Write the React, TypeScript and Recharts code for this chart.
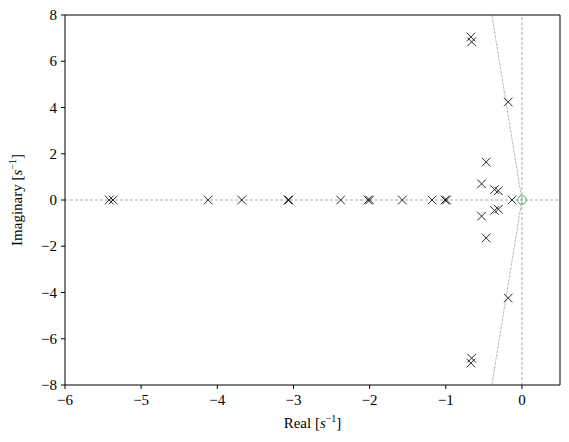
import { ReferenceLine, Scatter, ScatterChart, XAxis, YAxis } from "recharts";

const poleRe = [
  -5.42, -5.37, -4.12, -3.68, -3.07, -3.06, -2.38, -2.02, -2.0, -1.57, -1.18, -1.01, -0.99, -0.13,
  -0.67, -0.67, -0.66, -0.66, -0.18, -0.18, -0.47, -0.47, -0.53, -0.53, -0.36, -0.36, -0.31, -0.31,
];
const poleIm = [
  0, 0, 0, 0, 0, 0, 0, 0, 0, 0, 0, 0, 0, 0,
  7.05, -7.05, 6.84, -6.84, 4.24, -4.24, 1.64, -1.64, 0.7, -0.7, 0.45, -0.45, 0.4, -0.4,
];
const zeroRe = [0];
const zeroIm = [0];

const xTicks = [-6, -5, -4, -3, -2, -1, 0];
const yTicks = [-8, -6, -4, -2, 0, 2, 4, 6, 8];

// asymptote end points
const asymTop = { x: -0.395, y: 8 };
const asymBottom = { x: -0.395, y: -8 };

const poles = poleRe.map((re, i) => ({ re, im: poleIm[i] }));
const zeros = zeroRe.map((re, i) => ({ re, im: zeroIm[i] }));

const FONT = "'Liberation Serif', 'DejaVu Serif', serif";

function CrossMark(props: { cx?: number; cy?: number }) {
  const { cx = 0, cy = 0 } = props;
  const s = 4.3;
  return (
    <g stroke="#111" strokeWidth={0.9}>
      <line x1={cx - s} y1={cy - s} x2={cx + s} y2={cy + s} />
      <line x1={cx - s} y1={cy + s} x2={cx + s} y2={cy - s} />
    </g>
  );
}

function CircleMark(props: { cx?: number; cy?: number }) {
  const { cx = 0, cy = 0 } = props;
  return <circle cx={cx} cy={cy} r={4.3} fill="none" stroke="#3fa34d" strokeWidth={0.9} />;
}

function tickFmt(v: number) {
  return v < 0 ? `\u2212${Math.abs(v)}` : `${v}`;
}

function XTick(props: { x?: number; y?: number; payload?: { value: number } }) {
  const { x = 0, y = 0, payload } = props;
  return (
    <text x={x} y={y + 14} textAnchor="middle" fontFamily={FONT} fontSize={15} fill="#000">
      {tickFmt(payload ? payload.value : 0)}
    </text>
  );
}

function YTick(props: { x?: number; y?: number; payload?: { value: number } }) {
  const { x = 0, y = 0, payload } = props;
  return (
    <text x={x - 2} y={y + 5} textAnchor="end" fontFamily={FONT} fontSize={15} fill="#000">
      {tickFmt(payload ? payload.value : 0)}
    </text>
  );
}

function XLabel(props: { viewBox?: { x: number; y: number; width: number; height: number } }) {
  const vb = props.viewBox || { x: 0, y: 0, width: 0, height: 0 };
  return (
    <text x={vb.x + vb.width / 2} y={428} textAnchor="middle" fontFamily={FONT} fontSize={15} fill="#000">
      Real [<tspan fontStyle="italic">s</tspan>
      <tspan dy={-6} fontSize={10}>{"\u22121"}</tspan>
      <tspan dy={6}>]</tspan>
    </text>
  );
}

function YLabel(props: { viewBox?: { x: number; y: number; width: number; height: number } }) {
  const vb = props.viewBox || { x: 0, y: 0, width: 0, height: 0 };
  const cy = vb.y + vb.height / 2;
  return (
    <text
      x={22}
      y={cy}
      textAnchor="middle"
      transform={`rotate(-90, 22, ${cy})`}
      fontFamily={FONT}
      fontSize={15}
      fill="#000"
    >
      Imaginary [<tspan fontStyle="italic">s</tspan>
      <tspan dy={-6} fontSize={10}>{"\u22121"}</tspan>
      <tspan dy={6}>]</tspan>
    </text>
  );
}

export default function App() {
  return (
    <div style={{ position: "absolute", left: 0, top: 0, background: "#fff" }}>
      <ScatterChart width={569} height={442} margin={{ top: 15, right: 9, bottom: 0, left: 10 }}>
        <XAxis
          type="number"
          dataKey="re"
          domain={[-6, 0.5]}
          ticks={xTicks}
          allowDataOverflow
          height={57}
          tickSize={4}
          stroke="#000"
          tick={<XTick />}
          label={<XLabel />}
        />
        <YAxis
          type="number"
          dataKey="im"
          domain={[-8, 8]}
          ticks={yTicks}
          allowDataOverflow
          width={55}
          tickSize={4}
          stroke="#000"
          tick={<YTick />}
          label={<YLabel />}
        />
        <ReferenceLine y={0} stroke="#8a8a8a" strokeWidth={0.7} strokeDasharray="3 2" />
        <ReferenceLine x={0} stroke="#8a8a8a" strokeWidth={0.7} strokeDasharray="3 2" />
        <ReferenceLine
          segment={[{ x: 0, y: 0 }, asymTop]}
          stroke="#9a9a9a"
          strokeWidth={0.7}
          strokeDasharray="3 1"
        />
        <ReferenceLine
          segment={[{ x: 0, y: 0 }, asymBottom]}
          stroke="#9a9a9a"
          strokeWidth={0.7}
          strokeDasharray="3 1"
        />
        <ReferenceLine y={8} stroke="#000" strokeWidth={1} />
        <ReferenceLine x={0.5} stroke="#000" strokeWidth={1} />
        <Scatter data={poles} shape={<CrossMark />} isAnimationActive={false} />
        <Scatter data={zeros} shape={<CircleMark />} isAnimationActive={false} />
      </ScatterChart>
    </div>
  );
}
